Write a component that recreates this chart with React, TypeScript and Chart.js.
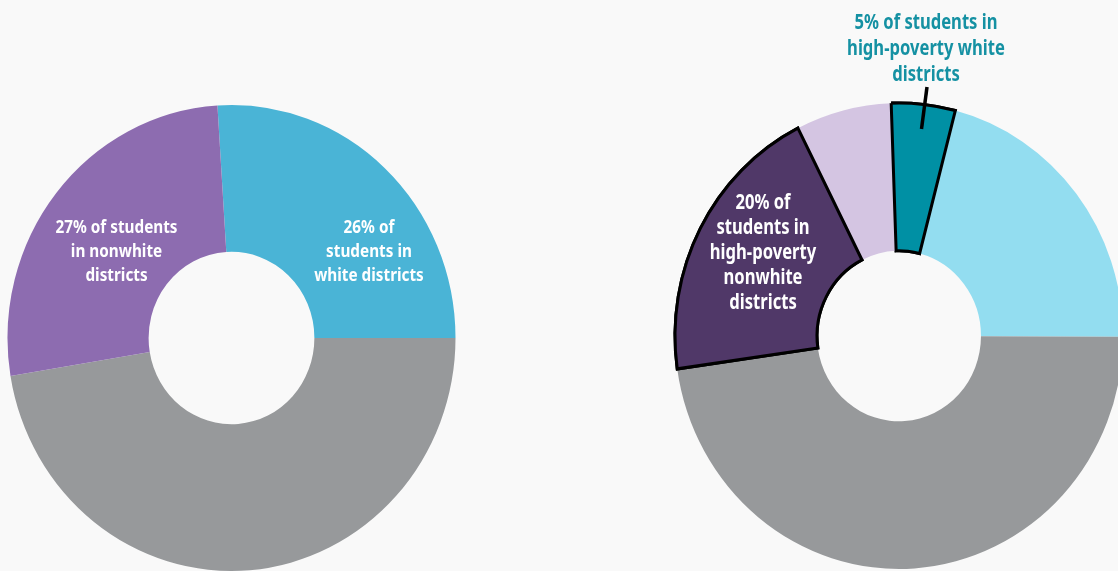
import React, { useEffect, useRef } from "react";
import { Chart, registerables } from "chart.js";

Chart.register(...registerables);

const W = 1118;
const H = 571;
const BG = "#f9f9f9";
const STRETCH_Y = 1.04;
const FONT = '"Noto Sans", "Open Sans", sans-serif';

// ---- Left donut data ----
const leftCategories = ["Students in white districts", "Other students", "Students in nonwhite districts"];
const leftValues = [26, 47.4, 26.6];
const leftColors = ["#4ab4d6", "#97999b", "#8d6cb0"];
const leftBorders = [0, 0, 0];

// ---- Right donut data ----
const rightCategories = [
  "High-poverty white districts",
  "Other white districts",
  "Other students",
  "High-poverty nonwhite districts",
  "Other nonwhite districts",
];
const rightValues = [4.6, 21.0, 47.7, 19.8, 6.9];
const rightColors = ["#0090a4", "#93ddf0", "#97999b", "#503868", "#d4c5e2"];
const rightBorders = [3, 0, 0, 3, 0];

// ---- Label texts ----
const leftNonwhiteLabel = ["27% of students", "in nonwhite", "districts"];
const leftWhiteLabel = ["26% of", "students in", "white districts"];
const rightNonwhiteLabel = ["20% of", "students in", "high-poverty", "nonwhite", "districts"];
const rightWhiteLabel = ["5% of students in", "high-poverty white", "districts"];

type Block = { lines: string[]; x: number; y: number; lh: number; size: number; sx: number; color: string };

function makeStretchPlugin(borders: number[]) {
  return {
    id: "stretchY",
    beforeDatasetsDraw(chart: any) {
      const el = chart.getDatasetMeta(0).data[0];
      const ctx = chart.ctx;
      ctx.save();
      ctx.translate(el.x, el.y);
      ctx.scale(1, STRETCH_Y);
      ctx.translate(-el.x, -el.y);
    },
    afterDatasetsDraw(chart: any) {
      const ctx = chart.ctx;
      const meta = chart.getDatasetMeta(0);
      meta.data.forEach((el: any, i: number) => {
        if (borders[i] > 0) el.draw(ctx);
      });
      ctx.restore();
    },
  };
}

function makeTextPlugin(blocks: Block[], leader?: number[]) {
  return {
    id: "sliceText",
    afterDraw(chart: any) {
      const ctx = chart.ctx as CanvasRenderingContext2D;
      for (const b of blocks) {
        b.lines.forEach((line, i) => {
          ctx.save();
          ctx.font = `700 ${b.size}px ${FONT}`;
          ctx.fillStyle = b.color;
          ctx.textAlign = "center";
          ctx.textBaseline = "alphabetic";
          ctx.translate(b.x, b.y + i * b.lh);
          ctx.scale(b.sx, 1);
          ctx.fillText(line, 0, 0);
          ctx.restore();
        });
      }
      if (leader) {
        ctx.save();
        ctx.beginPath();
        ctx.moveTo(leader[0], leader[1]);
        ctx.lineTo(leader[2], leader[3]);
        ctx.lineWidth = 3.5;
        ctx.strokeStyle = "#000";
        ctx.stroke();
        ctx.restore();
      }
    },
  };
}

function makeConfig(
  labels: string[],
  values: number[],
  colors: string[],
  borders: number[],
  padding: { left: number; right: number; top: number; bottom: number },
  radius: number,
  cutout: string,
  rotation: number,
  blocks: Block[],
  leader?: number[]
): any {
  return {
    type: "doughnut",
    data: {
      labels,
      datasets: [
        {
          data: values,
          backgroundColor: colors,
          borderWidth: borders,
          borderColor: "#000000",
          borderJoinStyle: "miter",
          borderAlign: "center",
          hoverOffset: 0,
          clip: false,
        },
      ],
    },
    options: {
      responsive: false,
      animation: false,
      events: [],
      rotation,
      circumference: 360,
      radius,
      cutout,
      layout: { padding },
      plugins: { legend: { display: false }, tooltip: { enabled: false } },
    },
    plugins: [makeStretchPlugin(borders), makeTextPlugin(blocks, leader)],
  };
}

export default function App() {
  const leftRef = useRef<HTMLCanvasElement>(null);
  const rightRef = useRef<HTMLCanvasElement>(null);

  useEffect(() => {
    const left = new Chart(
      leftRef.current!,
      makeConfig(
        leftCategories,
        leftValues,
        leftColors,
        leftBorders,
        { left: 0, right: W - 463, top: 105, bottom: 0 },
        224,
        "37%",
        -3.6,
        [
          { lines: leftNonwhiteLabel, x: 116.5, y: 233, lh: 24, size: 18, sx: 0.85, color: "#ffffff" },
          { lines: leftWhiteLabel, x: 369, y: 233, lh: 24, size: 18, sx: 0.85, color: "#ffffff" },
        ]
      )
    );
    const right = new Chart(
      rightRef.current!,
      makeConfig(
        rightCategories,
        rightValues,
        rightColors,
        rightBorders,
        { left: 680, right: 0, top: 101, bottom: 0 },
        224,
        "36.6%",
        -2.0,
        [
          { lines: rightNonwhiteLabel, x: 763, y: 208.5, lh: 25, size: 20.5, sx: 0.81, color: "#ffffff" },
          { lines: rightWhiteLabel, x: 926, y: 28.5, lh: 26, size: 20.5, sx: 0.81, color: "#1591a3" },
        ],
        [927, 87, 921.5, 129]
      )
    );
    return () => {
      left.destroy();
      right.destroy();
    };
  }, []);

  return (
    <div
      style={{
        position: "fixed",
        left: 0,
        top: 0,
        width: W,
        height: H,
        background: BG,
        overflow: "hidden",
      }}
    >
      <canvas ref={leftRef} width={W} height={H} style={{ position: "absolute", left: 0, top: 0 }} />
      <canvas ref={rightRef} width={W} height={H} style={{ position: "absolute", left: 0, top: 0 }} />
    </div>
  );
}
